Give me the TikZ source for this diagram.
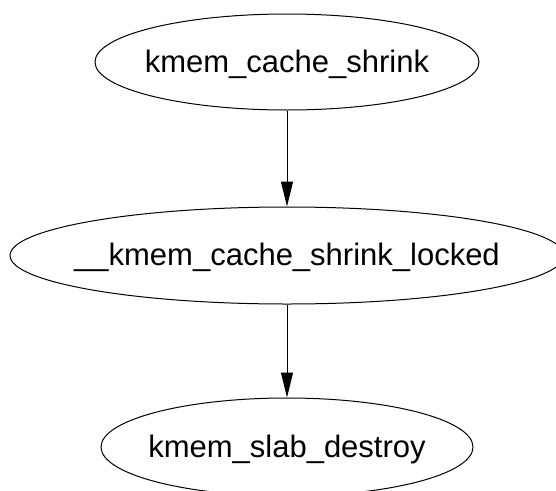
\documentclass[tikz,border=0pt]{standalone}
\usepackage{fontspec}
\setmainfont{Liberation Sans}
\usetikzlibrary{shapes.geometric,arrows.meta}
\tikzset{
  ell/.style={draw=black, ellipse, line width=1pt, inner sep=0pt},
  lab/.style={font=\fontsize{31}{36}\selectfont, inner sep=0pt, anchor=base},
  conn/.style={draw=black, line width=1pt, -{Triangle[length=25pt,width=12pt]}}
}
\begin{document}
\begin{tikzpicture}[x=1pt,y=1pt]
\useasboundingbox (0,0) rectangle (556,-490);
\node[ell, minimum width=384pt, minimum height=96pt] (a) at (287,-62) {};
\node[ell, minimum width=554pt, minimum height=97pt] (b) at (287,-255.5) {};
\node[ell, minimum width=372pt, minimum height=98pt] (c) at (287,-447) {};
\node[lab] (ta) at ([yshift=-10pt]a.center) {kmem\_cache\_shrink};
\node[lab] (tb) at ([yshift=-10pt]b.center) {\_\_kmem\_cache\_shrink\_locked};
\node[lab] (tc) at ([yshift=-10pt]c.center) {kmem\_slab\_destroy};
\draw[conn] (a.south) -- (b.north);
\draw[conn] (b.south) -- (c.north);
\end{tikzpicture}
\end{document}
